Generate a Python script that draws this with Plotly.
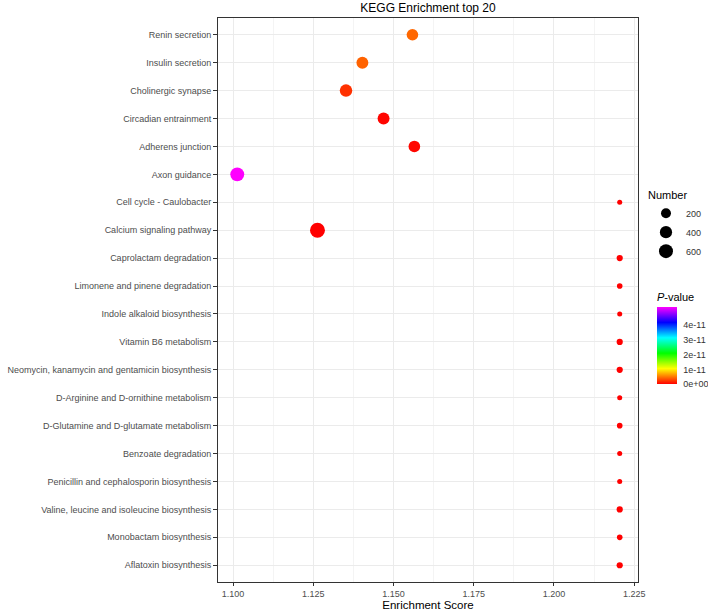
import numpy as np
import plotly.graph_objects as go

pathways = [
    "Renin secretion", "Insulin secretion", "Cholinergic synapse", "Circadian entrainment",
    "Adherens junction", "Axon guidance", "Cell cycle - Caulobacter", "Calcium signaling pathway",
    "Caprolactam degradation", "Limonene and pinene degradation", "Indole alkaloid biosynthesis",
    "Vitamin B6 metabolism", "Neomycin, kanamycin and gentamicin biosynthesis",
    "D-Arginine and D-ornithine metabolism", "D-Glutamine and D-glutamate metabolism",
    "Benzoate degradation", "Penicillin and cephalosporin biosynthesis",
    "Valine, leucine and isoleucine biosynthesis", "Monobactam biosynthesis", "Aflatoxin biosynthesis",
]
enrichment = [1.1559, 1.1403, 1.1352, 1.1469, 1.1565, 1.1013, 1.2205, 1.1263,
              1.2205, 1.2205, 1.2205, 1.2205, 1.2205, 1.2205, 1.2205, 1.2205, 1.2205, 1.2205, 1.2205, 1.2205]
number = [340, 370, 430, 370, 340, 600, 2, 730,
          20, 8, 2, 20, 20, 2, 8, 2, 2, 20, 8, 20]
pvalue = [4.2e-12, 4.0e-12, 2.0e-12, 2e-13, 3e-13, 5.2e-11, 1e-14, 1e-14,
          1e-14, 1e-14, 1e-14, 1e-14, 1e-14, 1e-14, 1e-14, 1e-14, 1e-14, 1e-14, 1e-14, 1e-14]
size_legend_values = [200, 400, 600]
p_ticks = [0, 1e-11, 2e-11, 3e-11, 4e-11]
p_ticklabels = ["0e+00", "1e-11", "2e-11", "3e-11", "4e-11"]
x_ticks = [1.100, 1.125, 1.150, 1.175, 1.200, 1.225]
x_ticklabels = ["1.100", "1.125", "1.150", "1.175", "1.200", "1.225"]


def diam(n):
    return 4.5 + 0.386 * np.sqrt(np.asarray(n, dtype=float))


colorscale = [[0.0, "#FF0000"], [0.2, "#FFFF00"], [0.4, "#00FF00"],
              [0.6, "#00FFFF"], [0.8, "#0000FF"], [1.0, "#FF00FF"]]

FONT = "Liberation Sans, Arial, sans-serif"
fig = go.Figure()

fig.add_trace(go.Scatter(
    x=enrichment, y=pathways, mode="markers", showlegend=False,
    marker=dict(size=diam(number), color=pvalue, colorscale=colorscale,
                cmin=0, cmax=max(pvalue), line=dict(width=0), opacity=1,
                colorbar=dict(
                    title=dict(text="<i>P</i>-value", side="top",
                               font=dict(size=11, color="#000000", family=FONT)),
                    tickvals=p_ticks, ticktext=p_ticklabels,
                    tickfont=dict(size=9, color="#333333", family=FONT),
                    thickness=20, lenmode="pixels", len=94,
                    x=1.045, xanchor="left", y=0.434, yanchor="middle",
                    outlinewidth=0, ticks="outside", tickcolor="rgba(0,0,0,0)", ticklen=5,
                    xpad=0, ypad=0)),
    hoverinfo="skip"))

for v in size_legend_values:
    fig.add_trace(go.Scatter(
        x=[None], y=[None], mode="markers", name=str(v), showlegend=True,
        marker=dict(size=float(diam(v)), color="black", line=dict(width=0))))

fig.update_layout(
    width=708, height=611,
    margin=dict(l=218, r=70, t=18, b=29, autoexpand=False),
    paper_bgcolor="white", plot_bgcolor="white",
    font=dict(family=FONT),
    title=dict(text="KEGG Enrichment top 20", x=428 / 708, xanchor="center",
               y=1 - 8 / 611, yanchor="middle", font=dict(size=12, color="#000000", family=FONT)),
    legend=dict(title=dict(text="Number", font=dict(size=11, color="#000000", family=FONT)),
                x=1.019, xanchor="left", y=0.705, yanchor="top",
                itemsizing="trace", font=dict(size=9, color="#333333", family=FONT),
                bgcolor="rgba(0,0,0,0)", tracegroupgap=0),
    xaxis=dict(range=[1.0953, 1.2262], tickvals=x_ticks, ticktext=x_ticklabels,
               showgrid=True, gridcolor="#EBEBEB", gridwidth=1,
               minor=dict(showgrid=True, gridcolor="#F4F4F4", gridwidth=0.6, dtick=0.0125, tick0=1.1),
               ticks="outside", ticklen=3, tickcolor="#333333",
               tickfont=dict(size=9, color="#4D4D4D", family=FONT), automargin=False,
               showline=True, linecolor="#333333", linewidth=1, mirror=True, zeroline=False,
               title=dict(text="Enrichment Score", font=dict(size=11.5, color="#000000", family=FONT), standoff=1)),
    yaxis=dict(categoryorder="array", categoryarray=pathways[::-1], range=[-0.6, 19.6],
               showgrid=True, gridcolor="#EBEBEB", gridwidth=1, automargin=False,
               ticks="outside", ticklen=4, tickcolor="#333333",
               tickfont=dict(size=9.0, color="#4D4D4D", family=FONT),
               showline=True, linecolor="#333333", linewidth=1, mirror=True, zeroline=False),
)

fig.write_html("out.html", config={"displayModeBar": False},
               post_script="document.body.style.margin='0';document.body.style.overflow='hidden';")
